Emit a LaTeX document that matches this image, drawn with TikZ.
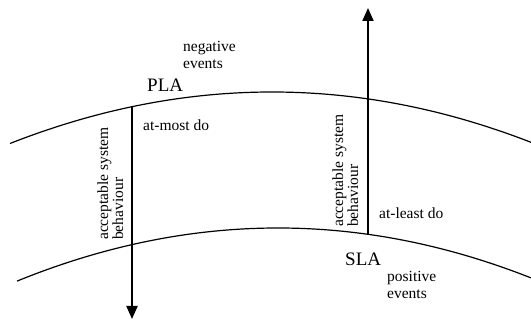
\documentclass[tikz,border=0pt]{standalone}
\usepackage{fontspec}
\setmainfont{Liberation Serif}
\usetikzlibrary{arrows.meta}
\begin{document}
\begin{tikzpicture}[x=1pt,y=-1pt,
  curve/.style={line width=1.2pt},
  bigarrow/.style={line width=2pt,-{Triangle[length=13pt,width=11pt]}},
  lbl/.style={font=\fontsize{15.5}{17}\selectfont, inner sep=0pt, align=left},
  sla/.style={font=\fontsize{19}{21}\selectfont, inner sep=0pt},
  rot/.style={font=\fontsize{15.5}{15}\selectfont, inner sep=0pt, align=left, rotate=90, anchor=south west}]
\useasboundingbox (0,0) rectangle (531,320);
% upper boundary (PLA)
\draw[curve] plot[domain=10:531, samples=120, smooth] (\x, {92+(0.027386*(\x-272))^2});
% lower boundary (SLA)
\draw[curve] plot[domain=17:531, samples=120, smooth] (\x, {228+(0.027928*(\x-278))^2});
% arrows
\coordinate (pla) at (132, {92+(0.027386*(132-272))^2});
\coordinate (lowend) at (132, 319);
\coordinate (sla) at (368, {228+(0.027928*(368-278))^2});
\coordinate (topend) at (368, 8);
\draw[bigarrow] (pla) -- (lowend);
\draw[bigarrow] (sla) -- (topend);
% labels
\node[lbl, anchor=base west] (neg) at (183, 68.5) {negative\\events};
\node[sla, anchor=base west] (plal) at (147, 91.5) {PLA};
\node[lbl, anchor=base west] (most) at (143, 131) {at-most do};
\node[lbl, anchor=base west] (least) at (379, 219) {at-least do};
\node[sla, anchor=base west] (slal) at (345, 266) {SLA};
\node[lbl, anchor=base west] (pos) at (387, 299) {positive\\events};
\node[rot] (accl) at (123.5, 240) {acceptable system\\behaviour};
\node[rot] (accr) at (358.5, 227) {acceptable system\\behaviour};
\end{tikzpicture}
\end{document}
